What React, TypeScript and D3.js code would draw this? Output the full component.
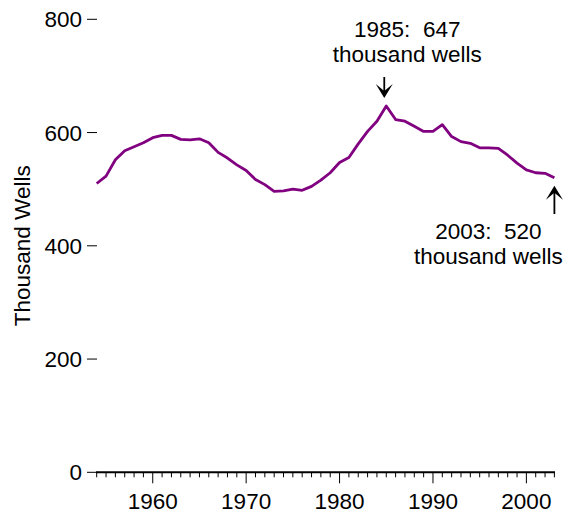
import React from "react";
import * as d3 from "d3";

const years = d3.range(1954, 2004);
const wells = [
  510, 523, 552, 568, 575, 582, 591, 595, 595, 588,
  587, 589, 582, 565, 555, 543, 533, 517, 508, 496,
  497, 500, 498, 505, 516, 529, 547, 556, 580, 602,
  620, 647, 623, 620, 611, 602, 602, 614, 593, 584,
  581, 573, 573, 572, 560, 546, 534, 529, 528, 520,
];
const yTicks = [0, 200, 400, 600, 800];
const xMajor = [1960, 1970, 1980, 1990, 2000];

const W = 565;
const H = 515;
const font = "'Liberation Sans', Arial, sans-serif";
const fs = 22.5;

export default function App() {
  const x = d3.scaleLinear().domain([1954, 2003]).range([96.7, 554.4]);
  const y = d3.scaleLinear().domain([0, 800]).range([472.3, 19.3]);
  const line = d3
    .line<number>()
    .x((_, i) => x(years[i]))
    .y((d) => y(d));

  const peakX = x(1985);
  const peakY = y(647);
  const endX = x(2003);
  const endY = y(520);

  // arrowhead: tip at (0,0), pointing down
  const head = "M0,0 L-8.5,-14 L0,-7 L8.5,-14 Z";

  return (
    <svg
      width={W}
      height={H}
      style={{ position: "absolute", left: 0, top: 0, background: "#fff" }}
      fontFamily={font}
    >
      {/* y axis ticks */}
      {yTicks.map((t) => (
        <g key={t} transform={`translate(0,${y(t)})`}>
          <line x1={87} x2={97} stroke="#000" strokeWidth={1} />
          <text x={82} dy="0.36em" textAnchor="end" fontSize={fs}>
            {t}
          </text>
        </g>
      ))}
      <text
        transform={`translate(30,${(y(0) + y(800)) / 2}) rotate(-90)`}
        textAnchor="middle"
        fontSize={fs}
      >
        Thousand Wells
      </text>

      {/* x axis */}
      <line x1={96} x2={555} y1={y(0)} y2={y(0)} stroke="#000" strokeWidth={2} />
      {years.map((yr) => (
        <line
          key={yr}
          x1={x(yr)}
          x2={x(yr)}
          y1={y(0)}
          y2={y(0) + (xMajor.includes(yr) ? 11 : 5)}
          stroke="#000"
          strokeWidth={1}
        />
      ))}
      {xMajor.map((yr) => (
        <text key={yr} x={x(yr)} y={509} textAnchor="middle" fontSize={fs}>
          {yr}
        </text>
      ))}

      {/* series */}
      <path d={line(wells) ?? ""} fill="none" stroke="#800080" strokeWidth={2.8} strokeLinejoin="round" />

      {/* annotation 1985 */}
      <text x={peakX + 21} y={36.7} textAnchor="middle" fontSize={fs}>
        1985:{"\u00a0\u00a0"}647
      </text>
      <text x={peakX + 21} y={62.3} textAnchor="middle" fontSize={fs}>
        thousand wells
      </text>
      <line x1={peakX - 2} x2={peakX - 2} y1={77} y2={peakY - 12} stroke="#000" strokeWidth={1.8} />
      <path d={head} transform={`translate(${peakX - 2},${peakY - 8})`} fill="#000" />

      {/* annotation 2003 */}
      <text x={endX - 66} y={239.3} textAnchor="middle" fontSize={fs}>
        2003:{"\u00a0\u00a0"}520
      </text>
      <text x={endX - 66} y={264} textAnchor="middle" fontSize={fs}>
        thousand wells
      </text>
      <line x1={endX} x2={endX} y1={214} y2={endY + 12} stroke="#000" strokeWidth={1.8} />
      <path d={head} transform={`translate(${endX},${endY + 8}) rotate(180)`} fill="#000" />
    </svg>
  );
}
